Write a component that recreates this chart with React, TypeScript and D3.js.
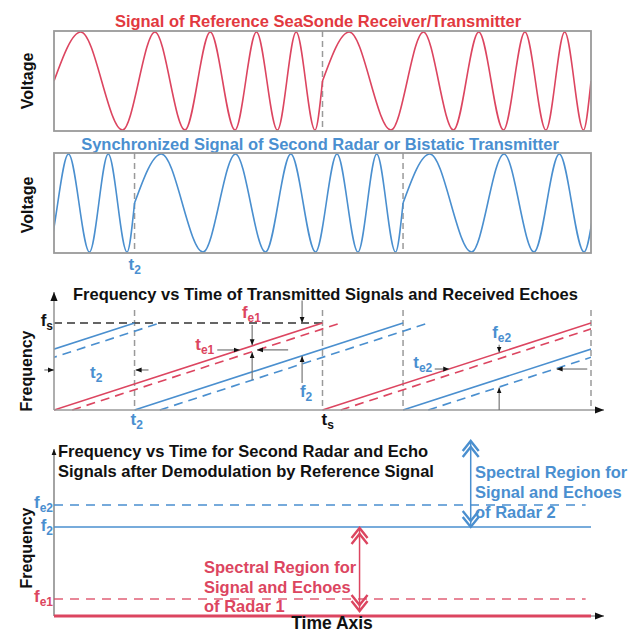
import React from 'react';
import * as d3 from 'd3';

// ---------- DATA ----------
// time axis in arbitrary units; one FM sweep lasts 50 units
const timeDomain: [number, number] = [0, 100];
const sweepPeriod = 50;
// extrema of the chirped sine within one sweep: [time within sweep, voltage]
const sweepExtrema: [number, number][] = [
  [0, 0], [5.0, 1], [12.75, -1], [18.8, 1], [24.4, -1], [29.1, 1],
  [33.7, -1], [37.7, 1], [41.6, -1], [45.1, 1], [48.6, -1], [50, 0],
];
const refSweepStarts = [0, 50];
const secondSweepStarts = [-35, 15, 65];
const refEchoDelay = 3.4;
const secondEchoDelay = 4.7;
const refResetTimes = [50];
const secondResetTimes = [15, 65];
const freqGridTimes = [15, 50, 65, 100];
const freqGridTop = 1.15;
const fsLevel = 1;
// annotation arrows in the frequency-vs-time chart: [[t0,f0],[t1,f1]] (head at second point)
const sweepArrows: [[number, number], [number, number]][] = [
  [[30.4, 0.69], [34.6, 0.69]],
  [[43.6, 0.69], [37.8, 0.69]],
  [[36.9, 0.977], [36.9, 0.745]],
  [[36.9, 0.345], [36.9, 0.665]],
  [[46.2, 1.26], [46.2, 1.0]],
  [[46.2, 0.31], [46.2, 0.62]],
  [[-1.8, 0.46], [0, 0.46]],
  [[17.6, 0.46], [15.2, 0.46]],
  [[82.9, 0.75], [82.9, 0.66]],
  [[82.9, 0], [82.9, 0.26]],
  [[70.9, 0.471], [73.6, 0.471]],
  [[99.3, 0.471], [93.6, 0.471]],
];
// demodulated frequency levels (bottom chart)
const demodLevelNames = ['fe2', 'f2', 'fe1', 'base'];
const demodLevelValues = [0.677, 0.543, 0.104, 0];
const radar2Region: [number, number] = [1.067, 0.543];
const radar1Region: [number, number] = [0.537, 0.03];
const radar2RegionTime = 77.6;
const radar1RegionTime = 56.9;

// ---------- STYLE ----------
const RED = '#dc4560';
const RED_TEXT = '#e2393f';
const BLUE = '#4a8fcf';
const BLUE_TEXT = '#4a8fd0';
const GRAY = '#9a9a9a';
const FONT = "'Liberation Sans', Arial, Helvetica, sans-serif";

const x = d3.scaleLinear().domain(timeDomain).range([54, 591]);
const yRef = d3.scaleLinear().domain([-1, 1]).range([130, 32]);
const ySec = d3.scaleLinear().domain([-1, 1]).range([252, 154]);
const yF = d3.scaleLinear().domain([0, 1]).range([410, 323]);
const yD = d3.scaleLinear().domain([0, 1]).range([616, 452]);

function Sub({ x: px, y, main, sub, fill, anchor = 'start', size = 17 }: any) {
  return (
    <text x={px} y={y} fill={fill} textAnchor={anchor} fontFamily={FONT} fontWeight="bold" fontSize={size}>
      <tspan>{main}</tspan>
      <tspan fontSize={12} dy={4}>{sub}</tspan>
    </text>
  );
}

function DoubleChevronArrow({ t, f0, f1, color }: any) {
  const px = x(t);
  const yTop = yD(f0);
  const yBot = yD(f1);
  const w = 8;
  const v = (tip: number, dir: number) =>
    `M${px - w},${tip + dir * 10}L${px},${tip}L${px + w},${tip + dir * 10}`;
  return (
    <g stroke={color} fill="none" strokeWidth={2.4} strokeLinejoin="miter">
      <line x1={px} x2={px} y1={yTop + 1} y2={yBot - 1} strokeWidth={1.5} />
      <path d={v(yTop, 1)} />
      <path d={v(yTop + 6, 1)} />
      <path d={v(yBot, -1)} />
      <path d={v(yBot - 6, -1)} />
    </g>
  );
}

export default function App() {
  const sigLine = (ys: d3.ScaleLinear<number, number>) =>
    d3.line<[number, number]>().x(d => x(d[0])).y(d => ys(d[1])).curve(d3.curveMonotoneX);
  const refLine = sigLine(yRef);
  const secLine = sigLine(ySec);
  const sweepPts = (s: number) => sweepExtrema.map(([t, v]) => [s + t, v] as [number, number]);
  const ramp = d3.line<[number, number]>().x(d => x(d[0])).y(d => yF(d[1]));
  const rampPts = (s: number): [number, number][] => [[s, 0], [s + sweepPeriod, fsLevel]];

  const title = (txt: string, px: number, py: number, fill: string, anchor = 'start', size = 16.5) => (
    <text x={px} y={py} fill={fill} textAnchor={anchor} fontFamily={FONT} fontWeight="bold" fontSize={size}>{txt}</text>
  );
  const vlabel = (txt: string, px: number, py: number) => (
    <text transform={`translate(${px},${py}) rotate(-90)`} textAnchor="middle" fontFamily={FONT} fontWeight="bold" fontSize={16} fill="#111">{txt}</text>
  );

  const levelY = (name: string) => yD(demodLevelValues[demodLevelNames.indexOf(name)]);

  return (
    <svg width={638} height={633} style={{ position: 'absolute', left: 0, top: 0, background: '#fff' }}>
      <defs>
        <marker id="ah" viewBox="0 0 10 10" refX="10" refY="5" markerWidth="6" markerHeight="6" markerUnits="userSpaceOnUse" orient="auto">
          <path d="M0,1L10,5L0,9z" fill="#111" />
        </marker>
        <marker id="axh" viewBox="0 0 10 10" refX="10" refY="5" markerWidth="9" markerHeight="9" markerUnits="userSpaceOnUse" orient="auto">
          <path d="M0,1L10,5L0,9z" fill="#111" />
        </marker>
        <clipPath id="clipRef"><rect x={x(0)} y={29} width={x(100) - x(0)} height={104} /></clipPath>
        <clipPath id="clipSec"><rect x={x(0)} y={151} width={x(100) - x(0)} height={104} /></clipPath>
        <clipPath id="clipF"><rect x={x(0)} y={280} width={x(100) - x(0)} height={132} /></clipPath>
      </defs>

      {/* ---------- Panel 1: reference signal ---------- */}
      {title('Signal of Reference SeaSonde Receiver/Transmitter', 318, 27, RED_TEXT, 'middle')}
      {vlabel('Voltage', 33, 81)}
      {refResetTimes.map(t => (
        <line key={t} x1={x(t)} x2={x(t)} y1={yRef(1) - 1} y2={yRef(-1) + 1} stroke={GRAY} strokeWidth={1.5} strokeDasharray="6 4" />
      ))}
      <g clipPath="url(#clipRef)" fill="none" stroke={RED} strokeWidth={1.6}>
        {refSweepStarts.map(s => <path key={s} d={refLine(sweepPts(s)) || ''} />)}
      </g>
      <rect x={x(0)} y={31} width={x(100) - x(0)} height={100} fill="none" stroke={GRAY} strokeWidth={1.8} />

      {/* ---------- Panel 2: second radar signal ---------- */}
      {title('Synchronized Signal of Second Radar or Bistatic Transmitter', 320, 150, BLUE_TEXT, 'middle')}
      {vlabel('Voltage', 33, 205)}
      {secondResetTimes.map(t => (
        <line key={t} x1={x(t)} x2={x(t)} y1={ySec(1) - 1} y2={ySec(-1) + 1} stroke={GRAY} strokeWidth={1.5} strokeDasharray="6 4" />
      ))}
      <g clipPath="url(#clipSec)" fill="none" stroke={BLUE} strokeWidth={1.6}>
        {secondSweepStarts.map(s => <path key={s} d={secLine(sweepPts(s)) || ''} />)}
      </g>
      <rect x={x(0)} y={153} width={x(100) - x(0)} height={100} fill="none" stroke={GRAY} strokeWidth={1.8} />
      <Sub x={x(secondResetTimes[0]) - 6} y={270} main="t" sub="2" fill={BLUE_TEXT} />

      {/* ---------- Panel 3: frequency vs time ---------- */}
      {title('Frequency vs Time of Transmitted Signals and Received Echoes', 73, 300, '#111')}
      {vlabel('Frequency', 32, 371)}
      {freqGridTimes.map(t => (
        <line key={t} x1={x(t)} x2={x(t)} y1={yF(freqGridTop)} y2={yF(0)} stroke={GRAY} strokeWidth={1.5} strokeDasharray="6 4" />
      ))}
      <line x1={x(0)} x2={x(sweepPeriod)} y1={yF(fsLevel)} y2={yF(fsLevel)} stroke="#333" strokeWidth={1.6} strokeDasharray="8 5" />
      <g clipPath="url(#clipF)" fill="none" strokeWidth={1.6}>
        {refSweepStarts.map(s => <path key={'r' + s} d={ramp(rampPts(s)) || ''} stroke={RED} />)}
        {refSweepStarts.map(s => <path key={'re' + s} d={ramp(rampPts(s + refEchoDelay)) || ''} stroke={RED} strokeDasharray="9 6" />)}
        {secondSweepStarts.map(s => <path key={'b' + s} d={ramp(rampPts(s)) || ''} stroke={BLUE} />)}
        {secondSweepStarts.map(s => <path key={'be' + s} d={ramp(rampPts(s + secondEchoDelay)) || ''} stroke={BLUE} strokeDasharray="9 6" />)}
      </g>
      {/* axes */}
      <line x1={x(0)} x2={x(0)} y1={yF(0)} y2={292} stroke={GRAY} strokeWidth={1.6} markerEnd="url(#axh)" />
      <line x1={x(0)} x2={604} y1={yF(0)} y2={yF(0)} stroke={GRAY} strokeWidth={1.6} markerEnd="url(#axh)" />
      {/* annotation arrows */}
      <g stroke="#777" strokeWidth={1.2}>
        {sweepArrows.map(([a, b], i) => (
          <line key={i} x1={x(a[0])} y1={yF(a[1])} x2={x(b[0])} y2={yF(b[1])} markerEnd="url(#ah)" />
        ))}
      </g>
      <Sub x={x(0) - 1} y={yF(fsLevel) + 3} main="f" sub="s" fill="#111" anchor="end" />
      <Sub x={x(35)} y={yF(1.057)} main="f" sub="e1" fill={RED} />
      <Sub x={x(26.3)} y={yF(0.69)} main="t" sub="e1" fill={RED} />
      <Sub x={x(6.7)} y={yF(0.37)} main="t" sub="2" fill={BLUE_TEXT} />
      <Sub x={x(45.8)} y={yF(0.15)} main="f" sub="2" fill={BLUE_TEXT} />
      <Sub x={x(15) - 4} y={425} main="t" sub="2" fill={BLUE_TEXT} />
      <Sub x={x(50) - 1} y={425} main="t" sub="s" fill="#111" />
      <Sub x={x(81.6)} y={yF(0.83)} main="f" sub="e2" fill={BLUE_TEXT} />
      <Sub x={x(66.9)} y={yF(0.483)} main="t" sub="e2" fill={BLUE_TEXT} />

      {/* ---------- Panel 4: demodulated ---------- */}
      {title('Frequency vs Time for Second Radar and Echo', 58, 457, '#111')}
      {title('Signals after Demodulation by Reference Signal', 58, 477, '#111')}
      {vlabel('Frequency', 32, 548)}
      <line x1={x(0)} x2={x(0)} y1={yD(0)} y2={449} stroke={GRAY} strokeWidth={1.8} markerEnd="url(#ah)" />
      <line x1={x(0)} x2={604} y1={yD(0)} y2={yD(0)} stroke={GRAY} strokeWidth={1.6} markerEnd="url(#axh)" />
      <line x1={x(0)} x2={x(99)} y1={levelY('fe2')} y2={levelY('fe2')} stroke={BLUE} strokeWidth={1.5} strokeDasharray="9 7" />
      <line x1={x(0)} x2={x(100)} y1={levelY('f2')} y2={levelY('f2')} stroke={BLUE} strokeWidth={1.6} />
      <line x1={x(0)} x2={x(99)} y1={levelY('fe1')} y2={levelY('fe1')} stroke={RED} strokeWidth={1.5} strokeDasharray="9 7" opacity={0.85} />
      <line x1={x(0)} x2={x(100)} y1={levelY('base')} y2={levelY('base')} stroke={RED} strokeWidth={3} />
      <Sub x={x(0) - 1} y={levelY('fe2') + 3} main="f" sub="e2" fill={BLUE_TEXT} anchor="end" />
      <Sub x={x(0) - 1} y={levelY('f2') + 4} main="f" sub="2" fill={BLUE_TEXT} anchor="end" />
      <Sub x={x(0) - 1} y={levelY('fe1') + 3} main="f" sub="e1" fill={RED} anchor="end" />
      <DoubleChevronArrow t={radar2RegionTime} f0={radar2Region[0]} f1={radar2Region[1]} color={BLUE} />
      <DoubleChevronArrow t={radar1RegionTime} f0={radar1Region[0]} f1={radar1Region[1]} color={RED} />
      {title('Spectral Region for', 475, 478, BLUE_TEXT)}
      {title('Signal and Echoes', 475, 498, BLUE_TEXT)}
      {title('of Radar 2', 475, 518, BLUE_TEXT)}
      {title('Spectral Region for', 204, 573, RED)}
      {title('Signal and Echoes', 204, 593, RED)}
      {title('of Radar 1', 204, 612, RED)}
      {title('Time Axis', 332, 629, '#111', 'middle', 17.5)}
    </svg>
  );
}
